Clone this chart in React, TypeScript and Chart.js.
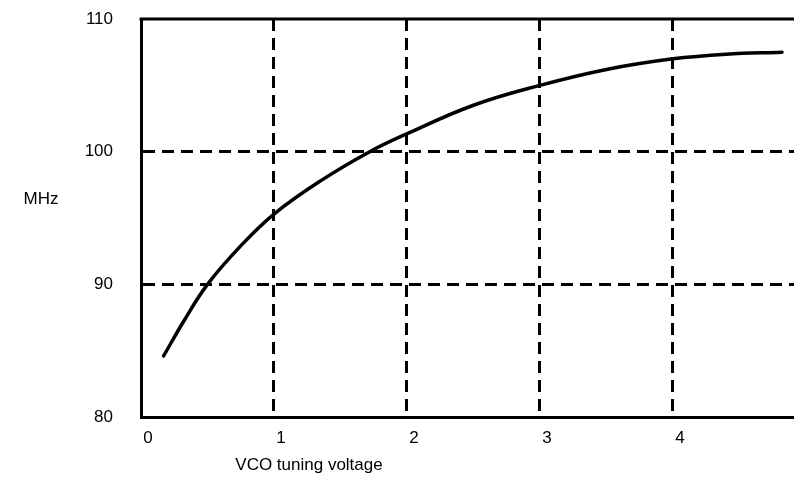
import React, { useEffect, useRef } from 'react';
import { Chart, registerables } from 'chart.js';

Chart.register(...registerables);

// Data
const voltage = [0.17, 0.32, 0.5, 0.75, 1.0, 1.35, 1.72, 2.0, 2.5, 3.0, 3.5, 4.0, 4.4, 4.82];
const mhz = [84.6, 87.2, 90.0, 92.9, 95.3, 97.8, 100.0, 101.35, 103.5, 105.0, 106.2, 107.0, 107.35, 107.5];
const xTicks = [0, 1, 2, 3, 4];
const yTicks = [80, 90, 100, 110];
const xTitle = 'VCO tuning voltage';
const yTitle = 'MHz';

const FONT = "'Liberation Sans', Arial, sans-serif";
const FSIZE = 17;

export default function App() {
  const ref = useRef<HTMLCanvasElement | null>(null);

  useEffect(() => {
    if (!ref.current) return;

    const framePlugin = {
      id: 'framePlugin',
      afterDraw(chart: any) {
        const { ctx, chartArea } = chart;
        ctx.save();
        ctx.strokeStyle = '#000';
        ctx.lineWidth = 3;
        ctx.beginPath();
        ctx.moveTo(chartArea.left - 1.5, chartArea.top);
        ctx.lineTo(chartArea.right, chartArea.top);
        ctx.stroke();
        ctx.fillStyle = '#000';
        ctx.font = `${FSIZE}px ${FONT}`;
        ctx.textAlign = 'center';
        ctx.textBaseline = 'middle';
        ctx.fillText(yTitle, 41, 199);
        ctx.fillText(xTitle, 309, 465);
        ctx.restore();
      },
    };

    const chart = new Chart(ref.current, {
      type: 'line',
      data: {
        datasets: [
          {
            data: voltage.map((v, i) => ({ x: v, y: mhz[i] })),
            borderColor: '#000',
            borderWidth: 3.5,
            pointRadius: 0,
            tension: 0.4,
            borderCapStyle: 'round',
            fill: false,
          },
        ],
      },
      options: {
        animation: false,
        responsive: false,
        devicePixelRatio: 1,
        layout: { padding: { left: 0, top: 19, right: 0, bottom: 0 } },
        plugins: { legend: { display: false }, tooltip: { enabled: false } },
        scales: {
          x: {
            type: 'linear',
            min: 0,
            max: 4.91,
            afterBuildTicks: (s: any) => {
              s.ticks = xTicks.map((v) => ({ value: v }));
            },
            afterFit: (s: any) => {
              s.height = 83;
              s.paddingLeft = 0;
              s.paddingRight = 0;
            },
            ticks: {
              color: '#000',
              font: { family: FONT, size: FSIZE },
              padding: 11,
              labelOffset: 7,
              maxRotation: 0,
              autoSkip: false,
            },
            grid: {
              color: (c: any) => (c.tick && c.tick.value === 0 ? 'rgba(0,0,0,0)' : '#000'),
              lineWidth: 3,
              drawTicks: false,
            },
            border: { display: true, color: '#000', width: 3, dash: [12, 7] },
          },
          y: {
            type: 'linear',
            min: 80,
            max: 110,
            afterBuildTicks: (s: any) => {
              s.ticks = yTicks.map((v) => ({ value: v }));
            },
            afterFit: (s: any) => {
              s.width = 141;
              s.paddingTop = 0;
              s.paddingBottom = 0;
            },
            ticks: {
              color: '#000',
              font: { family: FONT, size: FSIZE },
              padding: 28,
            },
            grid: {
              color: (c: any) =>
                c.tick && (c.tick.value === 80 || c.tick.value === 110) ? 'rgba(0,0,0,0)' : '#000',
              lineWidth: 3,
              drawTicks: false,
            },
            border: { display: true, color: '#000', width: 3, dash: [12, 7] },
          },
        },
      },
      plugins: [framePlugin],
    } as any);

    return () => chart.destroy();
  }, []);

  return (
    <div style={{ position: 'absolute', left: 0, top: 0, width: 794, height: 500, overflow: 'hidden', background: '#fff' }}>
      <canvas ref={ref} width={794} height={500} style={{ display: 'block' }} />
    </div>
  );
}
